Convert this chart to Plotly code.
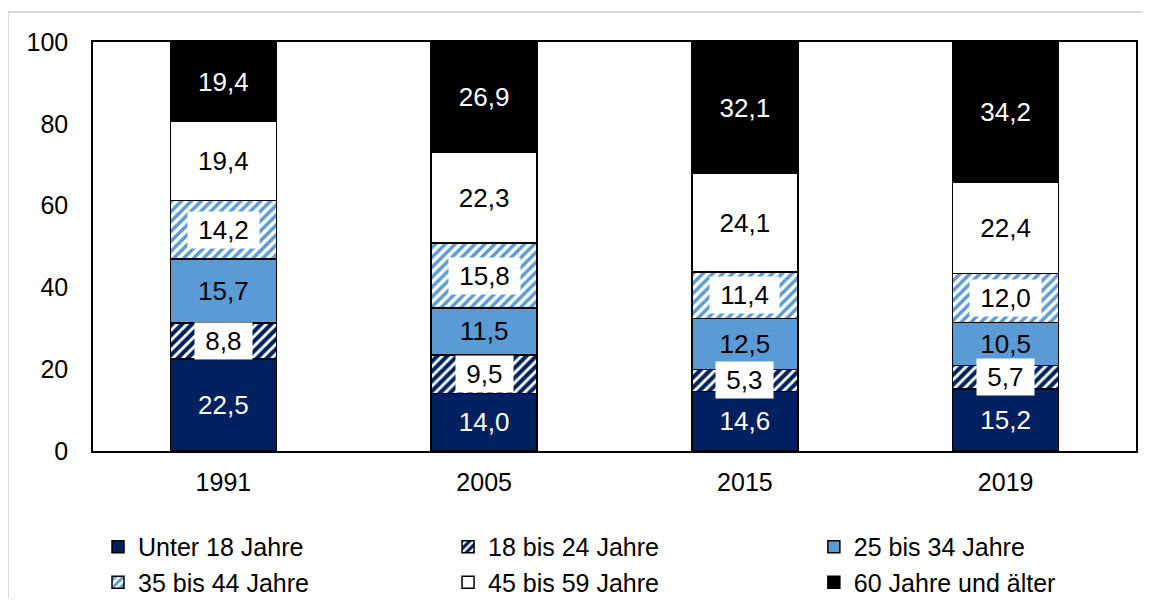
import plotly.graph_objects as go

years = ["1991", "2005", "2015", "2019"]
series_names = ["Unter 18 Jahre", "18 bis 24 Jahre", "25 bis 34 Jahre",
                "35 bis 44 Jahre", "45 bis 59 Jahre", "60 Jahre und älter"]
unter18 = [22.5, 14.0, 14.6, 15.2]
j18_24 = [8.8, 9.5, 5.3, 5.7]
j25_34 = [15.7, 11.5, 12.5, 10.5]
j35_44 = [14.2, 15.8, 11.4, 12.0]
j45_59 = [19.4, 22.3, 24.1, 22.4]
j60 = [19.4, 26.9, 32.1, 34.2]
y_ticks = [0, 20, 40, 60, 80, 100]

NAVY = "#002060"
LBLUE = "#5B9BD5"
FONT = "Liberation Sans, Arial, sans-serif"
FS = 25
LFS = 26

series = [unter18, j18_24, j25_34, j35_44, j45_59, j60]
styles = [
    dict(color=NAVY, pattern=None, text="white", box=False),
    dict(color=NAVY, pattern=dict(shape="/", fgcolor="white", fgopacity=1, size=7, solidity=0.42, fillmode="overlay"), text="black", box=True),
    dict(color=LBLUE, pattern=None, text="black", box=False),
    dict(color="white", pattern=dict(shape="/", fgcolor=LBLUE, fgopacity=1, size=7, solidity=0.5, fillmode="overlay"), text="black", box=True),
    dict(color="white", pattern=None, text="black", box=False),
    dict(color="black", pattern=None, text="white", box=False),
]
legend_ids = ["legend", "legend2", "legend3"]

fig = go.Figure()
annotations = []
base = [0.0] * len(years)
for k, (name, vals, st) in enumerate(zip(series_names, series, styles)):
    labels = [f"{v:.1f}".replace(".", ",") for v in vals]
    marker = dict(color=st["color"], line=dict(color="black", width=1.5))
    if st["pattern"]:
        marker["pattern"] = st["pattern"]
    fig.add_trace(go.Bar(
        name=name, x=years, y=vals, marker=marker,
        text=None if st["box"] else labels,
        textposition="inside", insidetextanchor="middle", textangle=0,
        textfont=dict(color=st["text"], size=LFS, family=FONT),
        legend=legend_ids[k % 3],
    ))
    for i, v in enumerate(vals):
        if st["box"]:
            annotations.append(dict(
                x=i, y=base[i] + v / 2, xref="x", yref="y",
                text="\u00a0" + labels[i] + "\u00a0", showarrow=False,
                bgcolor="white", borderpad=3,
                font=dict(color=st["text"], size=LFS, family=FONT),
            ))
        base[i] += v

leg_common = dict(orientation="v", xref="container", yref="container",
                  xanchor="left", y=0.1255, yanchor="top", traceorder="normal",
                  font=dict(size=FS, family=FONT), bgcolor="rgba(0,0,0,0)",
                  tracegroupgap=0)

fig.update_layout(
    barmode="stack",
    bargap=0.594,
    width=1135, height=590,
    margin=dict(l=85, r=7, t=34, b=147, autoexpand=False),
    paper_bgcolor="white", plot_bgcolor="white",
    font=dict(family=FONT, size=FS, color="black"),
    annotations=annotations,
    legend=dict(x=0.0793, **leg_common),
    legend2=dict(x=0.3877, **leg_common),
    legend3=dict(x=0.7100, **leg_common),
    xaxis=dict(type="category", showline=True, linecolor="black", linewidth=1.5, mirror=True,
               ticks="", tickfont=dict(size=FS), ticklabelstandoff=8),
    yaxis=dict(range=[0, 100], tickvals=y_ticks, showline=True, linecolor="black",
               linewidth=1.5, mirror=True, showgrid=False, zeroline=False,
               ticks="outside", ticklen=18, tickcolor="rgba(0,0,0,0)", tickfont=dict(size=FS)),
    shapes=[dict(type="rect", xref="paper", yref="paper",
                 x0=-0.0815, x1=1.03, y0=-0.45, y1=1.0733,
                 line=dict(color="#d9d9d9", width=2), layer="below")],
)

fig.write_html("out.html")
